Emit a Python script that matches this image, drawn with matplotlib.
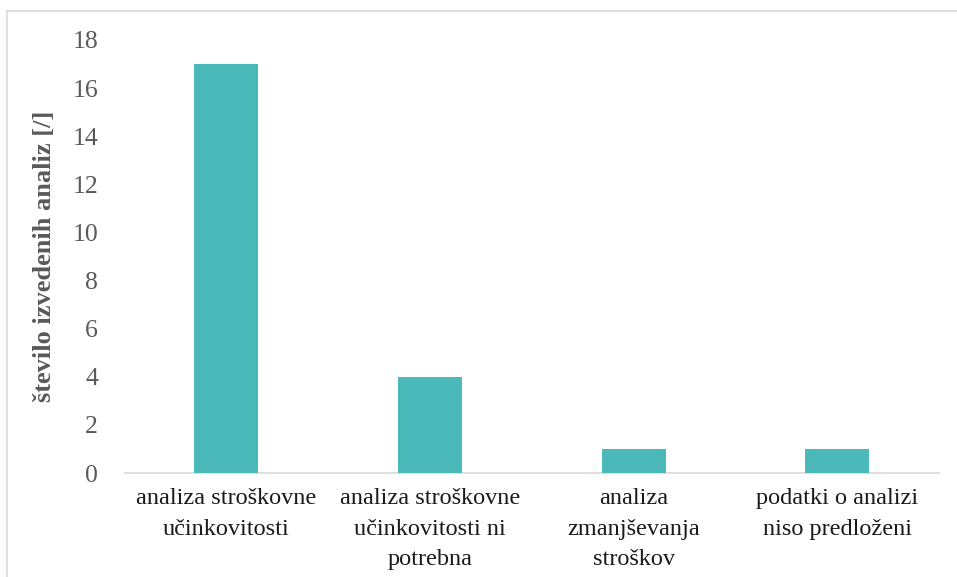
import matplotlib
matplotlib.use("Agg")
import matplotlib.pyplot as plt
from matplotlib.lines import Line2D

categories = ["analiza stroškovne\nučinkovitosti",
              "analiza stroškovne\nučinkovitosti ni\npotrebna",
              "analiza\nzmanjševanja\nstroškov",
              "podatki o analizi\nniso predloženi"]
values = [17, 4, 1, 1]
yticks = [0, 2, 4, 6, 8, 10, 12, 14, 16, 18]
ylabel = "število izvedenih analiz [/]"

plt.rcParams['font.family'] = ['Liberation Serif', 'DejaVu Serif']

W, H = 957, 577
fig = plt.figure(figsize=(W/100, H/100), dpi=100)
left, right, top, bottom = 124.5, 939, 40, 473
ax = fig.add_axes([left/W, 1-bottom/H, (right-left)/W, (bottom-top)/H])

x = list(range(len(categories)))
ax.bar(x, values, width=0.314, color="#4BB8BA", zorder=3)
ax.set_xlim(-0.5, len(categories)-0.5)
ax.set_ylim(0, 18)
ax.set_yticks(yticks)
ax.set_yticklabels([str(t) for t in yticks], fontsize=18.5, color="#595959")
ax.set_xticks(x)
ax.set_xticklabels(categories, fontsize=17.5, color="#1a1a1a", linespacing=1.6)
ax.tick_params(axis='both', length=0)
ax.tick_params(axis='y', pad=19)
ax.tick_params(axis='x', pad=11)
for s in ['top', 'right', 'left']:
    ax.spines[s].set_visible(False)
ax.spines['bottom'].set_color("#d9d9d9")
ax.spines['bottom'].set_linewidth(1.2)
ax.set_ylabel(ylabel, fontsize=19, fontweight='bold', color="#595959", labelpad=12)

# figure border
fig.add_artist(Line2D([7.5/W, 7.5/W], [0, 1-10.5/H], transform=fig.transFigure, color="#d9d9d9", lw=1.2))
fig.add_artist(Line2D([7.5/W, 1], [1-10.5/H, 1-10.5/H], transform=fig.transFigure, color="#d9d9d9", lw=1.2))

fig.savefig("out.png", dpi=100)
